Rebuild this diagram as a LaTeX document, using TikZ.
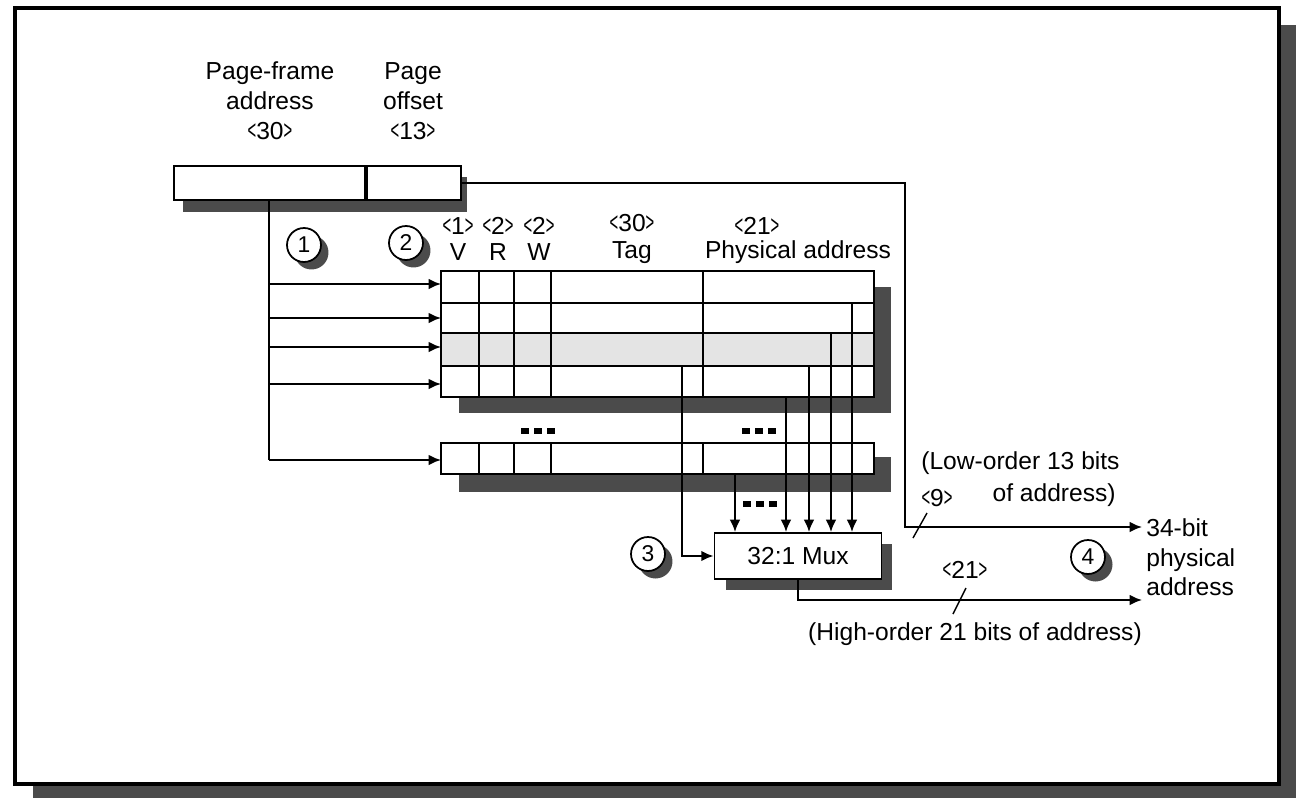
\documentclass[tikz,border=0pt]{standalone}
\usepackage{fontspec}
\setmainfont{Liberation Sans}
\usetikzlibrary{positioning, calc, arrows.meta, shadows}
\definecolor{shadowgray}{HTML}{4B4B4B}
\definecolor{rowgray}{HTML}{E4E4E4}
\newcommand{\bits}[1]{\scalebox{0.6}[1.1]{<}#1\scalebox{0.6}[1.1]{>}}

\tikzset{
  wire/.style={line width=1.1pt},
  arr/.style={wire, -{Latex[length=7pt, width=6pt]}},
  lbl/.style={font=\fontsize{14}{15}\selectfont, align=center, inner sep=0pt},
  tall/.style={lbl, font=\fontsize{14}{17}\selectfont},
  field/.style={draw, line width=1.1pt, fill=white, minimum height=0.68cm, inner sep=0pt, anchor=north west},
  num/.style={circle, draw, line width=1pt, fill=white, minimum size=0.68cm, inner sep=0pt,
    font=\fontsize{13}{15}\selectfont,
    drop shadow={shadow xshift=0.15cm, shadow yshift=-0.15cm, fill=shadowgray, opacity=1}},
}

\begin{document}
\begin{tikzpicture}[x=0.02cm, y=-0.02cm]
  \useasboundingbox (0,0) rectangle (1296,798);
  % Frame
  \fill[shadowgray] (33,25) rectangle (1296,798);
  \draw[line width=1.8pt, fill=white] (15,8) rectangle (1279,784);

  % Virtual address register
  \node[tall] (pfalab) at (270,101) {Page-frame\\address\\\bits{30}};
  \node[tall] (pofflab) at (413,101) {Page\\offset\\\bits{13}};
  \fill[shadowgray] (183,177) rectangle (467,212);
  \node[field, minimum width=3.82cm] (pfa) at (173,165) {};
  \node[field, minimum width=1.88cm] (poff) at (pfa.north east) {};

  % TLB shadows
  \fill[shadowgray] (459,287) rectangle (891,413);
  \fill[shadowgray] (459,457) rectangle (891,492);
  % TLB entries
  \fill[white] (441,271) rectangle (874,397);
  \fill[rowgray] (441,333) rectangle (874,366);
  \draw[wire] (441,271) rectangle (874,397);
  \draw[wire, fill=white] (441,443) rectangle (874,474);
  \foreach \y in {303,333,366}
    \draw[wire] (441,\y) -- (874,\y);
  \foreach \x in {479,514,551,703} {
    \draw[wire] (\x,271) -- (\x,397);
    \draw[wire] (\x,443) -- (\x,474);
  }

  % Column headers
  \node[lbl] (hv) at (458,239) {\bits{1}\\V};
  \node[lbl] (hr) at (498,239) {\bits{2}\\R};
  \node[lbl] (hw) at (539,239) {\bits{2}\\W};
  \node[lbl] (htag) at (632,239) {\bits{30}\\Tag};
  \node[lbl] (hpn) at (757,226) {\bits{21}};
  \node[lbl] (hpa) at (798,252) {Physical address};

  % Ellipses
  \foreach \cx/\cy in {538/431, 759/431, 760/504}
    \foreach \dx in {-13,0,13}
      \fill (\cx+\dx-4,\cy-3) rectangle ++(8,6);

  % Mux
  \node[draw, wire, fill=white, minimum width=3.34cm, minimum height=0.92cm, lbl,
    drop shadow={shadow xshift=0.22cm, shadow yshift=-0.22cm, fill=shadowgray, opacity=1}] (mux) at (798,556) {32:1 Mux};

  % Numbered steps
  \node[num] (s1) at (304,245) {1};
  \node[num] (s2) at (406,243) {2};
  \node[num] (s3) at (648,554) {3};
  \node[num] (s4) at (1088,557) {4};

  % Entry select lines
  \foreach \i/\y in {1/284,2/318,3/347,4/384,5/460}
    \coordinate (e\i) at (441,\y);
  \draw[wire] (pfa.south) -- (pfa.south |- e5);
  \foreach \i in {1,...,5}
    \draw[arr] (pfa.south |- e\i) -- (e\i);

  % Physical address lines to mux
  \coordinate (tg) at (682,366);
  \coordinate (p1) at (735,474);
  \coordinate (p2) at (786,397);
  \coordinate (p3) at (809,366);
  \coordinate (p4) at (831,333);
  \coordinate (p5) at (852,303);
  \foreach \i in {1,...,5}
    \draw[arr] (p\i) -- (p\i |- mux.north);
  \draw[arr] (tg) |- (mux.west);

  % Low-order bits
  \coordinate (lobend) at (905,527);
  \coordinate (lo) at (1142,527);
  \draw[arr] (poff.east) -| (lobend) -- (lo);
  \draw[line width=0.8pt] (913,538) -- (927,513);
  \node[lbl] (lo9) at (937,498) {\bits{9}};
  \node[lbl, anchor=west] (lotxt) at (921,463) {(Low-order 13 bits};
  \node[lbl, anchor=east] (lotxt2) at (1116,495) {of address)};

  % High-order bits
  \coordinate (hi) at (1142,600);
  \draw[arr] (mux.south) |- (hi);
  \draw[line width=0.8pt] (953,614) -- (966,588);
  \node[lbl] (hi21) at (965,570) {\bits{21}};
  \node[lbl] (hitxt) at (975,634) {(High-order 21 bits of address)};
  \node[tall, anchor=north west, align=left] (pa) at (1146,518) {34-bit\\physical\\address};
\end{tikzpicture}
\end{document}
